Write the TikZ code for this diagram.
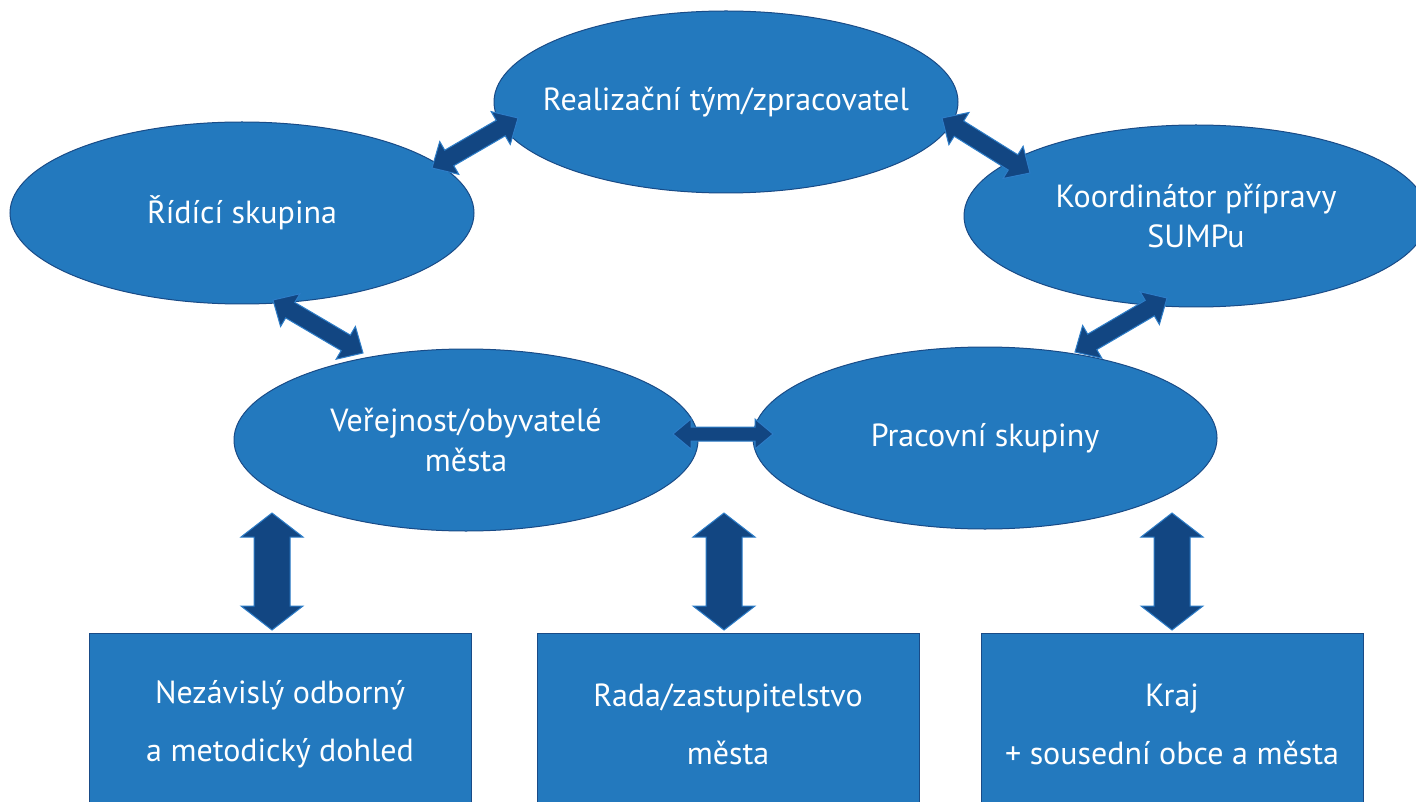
\documentclass[tikz,border=0pt]{standalone}
\usepackage{fontspec}
\setmainfont{PT Sans}
\usetikzlibrary{shapes.geometric,calc}
\definecolor{nodefill}{RGB}{35,121,190}
\definecolor{nodeedge}{RGB}{25,75,135}
\definecolor{arrowfill}{RGB}{18,70,130}
\definecolor{arrowedge}{RGB}{45,125,200}
\tikzset{
  ovaltext/.style={text=white, font=\fontsize{32}{40}\selectfont, align=center, inner sep=0pt},
  oval/.style={ellipse, fill=nodefill, draw=nodeedge, line width=1pt,
    minimum width=464pt, minimum height=182pt, inner sep=0pt,
    label={[ovaltext]center:#1}},
  boxnode/.style={rectangle, fill=nodefill, draw=nodeedge, line width=1pt,
    minimum width=382pt, minimum height=182pt, inner sep=0pt, anchor=north,
    text=white, font=\fontsize{32}{58}\selectfont, align=center},
  blockarrow/.style={fill=arrowfill, draw=arrowedge, line width=1pt, line join=miter}
}
% block double arrow between two named coordinates
% #1 start, #2 end, #3 shaft half width, #4 head half width, #5 head length
\newcommand\barrow[5]{%
  \coordinate (pa) at ($(#1)!#5!(#2)$);
  \coordinate (pb) at ($(#2)!#5!(#1)$);
  \draw[blockarrow] (#1) -- ($(pa)!#4!90:(#2)$) -- ($(pa)!#3!90:(#2)$)
    -- ($(pb)!#3!-90:(#1)$) -- ($(pb)!#4!-90:(#1)$) -- (#2)
    -- ($(pb)!#4!90:(#1)$) -- ($(pb)!#3!90:(#1)$)
    -- ($(pa)!#3!-90:(#2)$) -- ($(pa)!#4!-90:(#2)$) -- cycle;}
\begin{document}
\begin{tikzpicture}[x=1pt,y=-1pt]
\useasboundingbox (0,0) rectangle (1416,802);
\fill[white] (0,0) rectangle (1416,802);
% ellipses
\node[oval={Realizační tým/zpracovatel}] (real) at (726,102) {};
\node[oval={Řídící skupina}] (ridi) at (242,213) {};
\node[oval={Koordinátor přípravy\\SUMPu}] (koord) at (1196,216) {};
\node[oval={Veřejnost/obyvatelé\\města}] (verej) at (466,440) {};
\node[oval={Pracovní skupiny}] (prac) at (985,438) {};
% boxes
\node[boxnode] (dohled) at (280,633) {Nezávislý odborný\\a metodický dohled};
\node[boxnode] (rada) at (728,633) {Rada/zastupitelstvo\\města};
\node[boxnode] (kraj) at (1172,633) {Kraj\\+ sousední obce a města};
% connector ends
\coordinate (realL) at (518,118);
\coordinate (ridiT) at (432,168);
\coordinate (realR) at (942,118);
\coordinate (koordT) at (1030,173);
\coordinate (ridiB) at (273,300);
\coordinate (verejT) at (363,353);
\coordinate (koordB) at (1167,298);
\coordinate (pracT) at (1075,352);
\coordinate (verejR) at (673,434);
\coordinate (pracL) at (773,434);
\coordinate (verejB) at (272,513);
\coordinate (dohledT) at (272,630);
\coordinate (midB) at (724,513);
\coordinate (radaT) at (724,630);
\coordinate (pracB) at (1172,513);
\coordinate (krajT) at (1172,630);
% arrows
\barrow{realL}{ridiT}{9pt}{19pt}{20pt}
\barrow{realR}{koordT}{9pt}{19pt}{20pt}
\barrow{ridiB}{verejT}{9pt}{19pt}{20pt}
\barrow{koordB}{pracT}{9pt}{19pt}{20pt}
\barrow{verejR}{pracL}{7pt}{15pt}{18pt}
\barrow{verejB}{dohledT}{18pt}{31pt}{24pt}
\barrow{midB}{radaT}{18pt}{31pt}{24pt}
\barrow{pracB}{krajT}{18pt}{31pt}{24pt}
\end{tikzpicture}
\end{document}
